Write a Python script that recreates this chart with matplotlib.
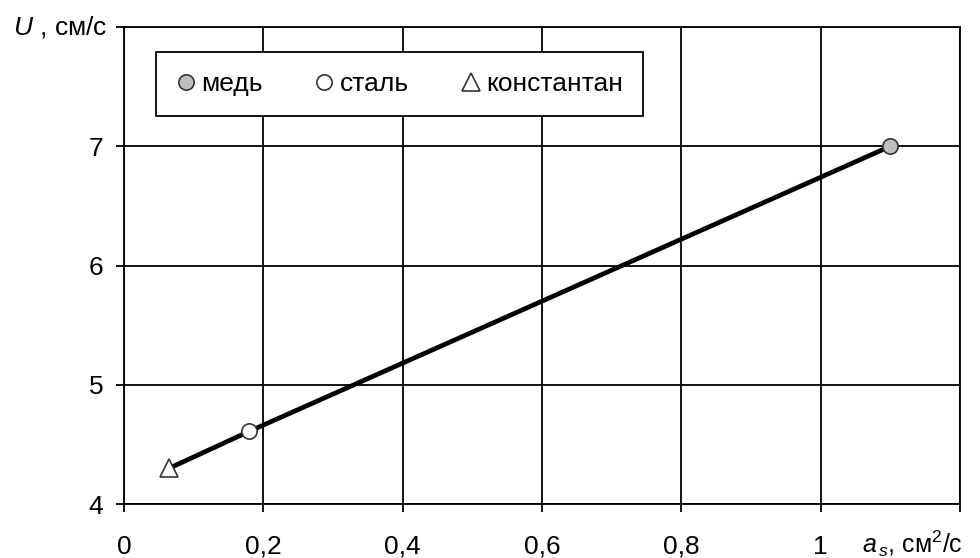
import matplotlib
matplotlib.use("Agg")
import matplotlib.pyplot as plt
from matplotlib.ticker import FixedLocator, FixedFormatter

plt.rcParams['font.family'] = ['Liberation Sans', 'DejaVu Sans']
plt.rcParams['mathtext.fontset'] = 'custom'
plt.rcParams['mathtext.it'] = 'Liberation Sans:italic'
plt.rcParams['mathtext.rm'] = 'Liberation Sans'

# Data
materials = ['медь', 'сталь', 'константан']
a_s = [1.10, 0.18, 0.065]      # cm^2/s
U = [7.0, 4.61, 4.30]          # cm/s
markers = ['o', 'o', '^']
faces = ['#c0c0c0', 'white', 'white']

x_ticks = [0, 0.2, 0.4, 0.6, 0.8, 1.0, 1.2]
x_labels = ['0', '0,2', '0,4', '0,6', '0,8', '1', '']
y_ticks = [4, 5, 6, 7, 8]
y_labels = ['4', '5', '6', '7', '']

FS = 19

fig = plt.figure(figsize=(9.8, 5.58), dpi=100)
ax = fig.add_axes([124/980, 1-504/558, (960-124)/980, (504-27)/558])

ax.set_xlim(0, 1.2)
ax.set_ylim(4, 8)
ax.xaxis.set_major_locator(FixedLocator(x_ticks))
ax.xaxis.set_major_formatter(FixedFormatter(x_labels))
ax.yaxis.set_major_locator(FixedLocator(y_ticks))
ax.yaxis.set_major_formatter(FixedFormatter(y_labels))
ax.grid(True, color='black', linewidth=1.3)
ax.set_axisbelow(True)
for s in ax.spines.values():
    s.set_color('black')
    s.set_linewidth(1.3)
ax.tick_params(axis='x', direction='out', length=6, width=1.3, pad=16, labelsize=FS, colors='black')
ax.tick_params(axis='y', direction='out', length=6, width=1.3, pad=9, labelsize=FS, colors='black')

# connecting line
order = sorted(range(len(a_s)), key=lambda i: a_s[i])
ax.plot([a_s[i] for i in order], [U[i] for i in order], color='black', linewidth=3.4, zorder=3)

for i, name in enumerate(materials):
    ms = 11 if markers[i] == 'o' else 13
    ax.plot([a_s[i]], [U[i]], linestyle='none', marker=markers[i], markersize=ms,
            markerfacecolor=faces[i], markeredgecolor='#333333', markeredgewidth=1.2,
            label=name, zorder=4)

# legend box spans px x 156..643, top at y=52
x0 = (156-124)/836
w = (643-156)/836
ytop = (504-52)/477
leg = ax.legend(loc='upper left', bbox_to_anchor=(x0, ytop - 0.2, w, 0.2), mode='expand',
                borderaxespad=0, ncol=3, fontsize=FS, frameon=True, fancybox=False,
                framealpha=1, edgecolor='black', handlelength=0.75, handletextpad=0.22,
                columnspacing=1.6, borderpad=0.75, markerscale=1.0)
leg.get_frame().set_linewidth(1.3)

fig.text(107/980, 1-27/558, r'$\mathit{U}$ , см/с', ha='right', va='center', fontsize=FS)
fig.text(862/980, 1-553/558, r'$\mathit{a}_{\,\mathit{s}}$, см$^2$/с', ha='left', va='baseline', fontsize=18)

fig.savefig('out.png', dpi=100)
